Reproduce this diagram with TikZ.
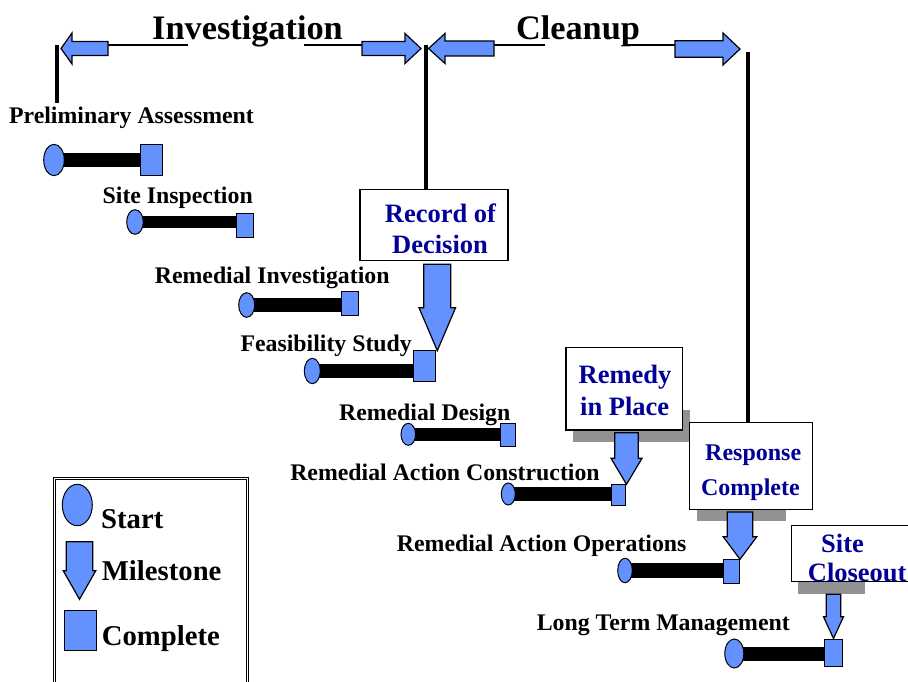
\documentclass[tikz,border=0pt]{standalone}
\usepackage{fontspec}
\setmainfont{Liberation Serif}
\usetikzlibrary{shapes.geometric,backgrounds}
\definecolor{fillblue}{RGB}{99,146,255}
\definecolor{navy}{RGB}{0,0,153}
\definecolor{shadowgray}{RGB}{146,146,146}
\newcommand\fs[1]{\fontsize{#1}{#1}\selectfont\bfseries}
% horizontal block arrow: tipx, cy, basex, endx, bodyhalf, headhalf
\newcommand\harrow[6]{\draw[msarrow] (#1,#2) -- (#3,#2-#6) -- (#3,#2-#5) -- (#4,#2-#5) -- (#4,#2+#5) -- (#3,#2+#5) -- (#3,#2+#6) -- cycle;}
% vertical block arrow: cx, top, base, tipy, bodyhalf, headhalf
\newcommand\varrow[6]{\draw[msarrow] (#1-#5,#2) -- (#1+#5,#2) -- (#1+#5,#3) -- (#1+#6,#3) -- (#1,#4) -- (#1-#6,#3) -- (#1-#5,#3) -- cycle;}
\begin{document}
\begin{tikzpicture}[x=1pt,y=-1pt,
  startnode/.style={ellipse,draw,fill=fillblue,line width=1pt,inner sep=0pt},
  donenode/.style={rectangle,draw,fill=fillblue,line width=1pt,inner sep=0pt},
  taskbar/.style={line width=#1},
  tasklabel/.style={anchor=base,inner sep=0pt,font={\fs{23.8}}},
  msbox/.style={rectangle,draw,fill=white,line width=1.3pt,inner sep=0pt},
  boxtext/.style={anchor=base,inner sep=0pt,text=navy},
  graysh/.style={fill=shadowgray},
  msarrow/.style={draw,fill=fillblue,line width=1.2pt,line join=miter},
  vbar/.style={line width=4pt},
  thinline/.style={line width=1.2pt},
  head/.style={anchor=base,inner sep=0pt,font={\fs{34.3}}},
  legtext/.style={anchor=base west,inner sep=0pt,font={\fs{28.7}}}
]
\useasboundingbox (0,0) rectangle (908,682);

% ---------- header ----------
\node[head] (inv) at (247.5,39.3) {Investigation};
\node[head] (cln) at (578,39.3) {Cleanup};
\draw[thinline] (108,45) -- (188,45);
\draw[thinline] (304,45) -- (362,45);
\draw[thinline] (494,45) -- (545,45);
\draw[thinline] (623,45) -- (675,45);
\harrow{61}{48.5}{72}{108}{7}{15.5}
\harrow{421}{48.5}{405}{362}{7}{15}
\harrow{428.5}{48.5}{445}{494}{7.5}{15}
\harrow{740}{49}{723}{675}{8.3}{16}

% ---------- milestone boxes ----------
\node[msbox,minimum width=148pt,minimum height=71.4pt] (rod) at (434,225) {};
\node[boxtext,font={\fs{26.5}}] (rod-a) at (440.5,222.7) {Record of};
\node[boxtext,font={\fs{26.5}}] (rod-b) at (440,253) {Decision};

\fill[graysh] (573,410) rectangle (690,442);
\node[msbox,minimum width=116.7pt,minimum height=82.3pt] (rip) at (624.35,388.85) {};
\node[boxtext,font={\fs{26.5}}] (rip-a) at (625,383.3) {Remedy};
\node[boxtext,font={\fs{26.5}}] (rip-b) at (624.7,415) {in Place};

\fill[graysh] (697,490) rectangle (786,520.5);
\node[msbox,minimum width=123pt,minimum height=86.6pt] (rc) at (750.8,466) {};
\node[boxtext,font={\fs{24}}] (rc-a) at (753.2,460.7) {Response};
\node[boxtext,font={\fs{24}}] (rc-b) at (750.4,495) {Complete};

\fill[graysh] (798,560) rectangle (865,594);
\node[msbox,minimum width=138.3pt,minimum height=56pt] (sc) at (860.85,553.7) {};
\node[boxtext,font={\fs{26.5}}] (sc-a) at (842.5,552.7) {Site};
\node[boxtext,font={\fs{26.5}}] (sc-b) at (857.2,581) {Closeout};

% ---------- vertical phase bars ----------
\coordinate (vb1) at (56.7,45);
\coordinate (vb1e) at (56.7,103);
\draw[vbar] (vb1) -- (vb1e);
\coordinate (vb2) at (426,45);
\draw[vbar] (vb2) -- (vb2 |- rod.north);
\coordinate (vb3) at (747.5,52);
\draw[vbar] (vb3) -- (vb3 |- rc.north);

% ---------- tasks ----------
% Preliminary Assessment
\node[tasklabel] (pa-l) at (131.5,124) {Preliminary Assessment};
\node[startnode,minimum width=20.6pt,minimum height=31.4pt] (pa-s) at (54,160) {};
\node[donenode,minimum width=22.7pt,minimum height=31pt] (pa-c) at (151.35,159.8) {};
% Site Inspection
\node[tasklabel] (si-l) at (177.7,203.3) {Site Inspection};
\node[startnode,minimum width=16.6pt,minimum height=24.6pt] (si-s) at (135,222) {};
\node[donenode,minimum width=16.6pt,minimum height=24pt] (si-c) at (245,225.3) {};
% Remedial Investigation
\node[tasklabel] (ri-l) at (272.2,283.3) {Remedial Investigation};
\node[startnode,minimum width=16pt,minimum height=24.6pt] (ri-s) at (246.7,305) {};
\node[donenode,minimum width=16.6pt,minimum height=23.3pt] (ri-c) at (350,303.35) {};
% Feasibility Study
\node[tasklabel] (fs-l) at (326.2,351.7) {Feasibility Study};
\node[startnode,minimum width=16pt,minimum height=25.4pt] (fs-s) at (312.3,371) {};
\node[donenode,minimum width=21.7pt,minimum height=30.3pt] (fs-c) at (424.15,365.85) {};
% Remedial Design
\node[tasklabel] (rd-l) at (424.7,420) {Remedial Design};
\node[startnode,minimum width=14.6pt,minimum height=22pt] (rd-s) at (408.3,434.3) {};
\node[donenode,minimum width=15pt,minimum height=22.7pt] (rd-c) at (508.2,434.65) {};
% Remedial Action Construction
\node[tasklabel] (rac-l) at (445,480) {Remedial Action Construction};
\node[startnode,minimum width=14pt,minimum height=22pt] (rac-s) at (508.3,494) {};
\node[donenode,minimum width=14pt,minimum height=21.2pt] (rac-c) at (618,494.9) {};
% Remedial Action Operations
\node[tasklabel] (rao-l) at (541.7,551) {Remedial Action Operations};
\node[startnode,minimum width=14.6pt,minimum height=24.6pt] (rao-s) at (625,570.5) {};
\node[donenode,minimum width=15.7pt,minimum height=23.7pt] (rao-c) at (731.15,571.15) {};
% Long Term Management
\node[tasklabel] (ltm-l) at (663.3,630.7) {Long Term Management};
\node[startnode,minimum width=19pt,minimum height=29pt] (ltm-s) at (734.3,653.5) {};
\node[donenode,minimum width=18.7pt,minimum height=27.5pt] (ltm-c) at (833.35,652.75) {};

\begin{scope}[on background layer]
\fill[white] (0,0) rectangle (908,682);
\draw[taskbar=13.4pt] (pa-s.center) -- (pa-s.center -| pa-c.center);
\draw[taskbar=12.7pt] (si-s.center) -- (si-s.center -| si-c.center);
\draw[taskbar=13.5pt] (ri-s.center) -- (ri-s.center -| ri-c.center);
\draw[taskbar=14pt] (fs-s.center) -- (fs-s.center -| fs-c.center);
\draw[taskbar=13.3pt] (rd-s.center) -- (rd-s.center -| rd-c.center);
\draw[taskbar=13.3pt] (rac-s.center) -- (rac-s.center -| rac-c.center);
\draw[taskbar=14.5pt] (rao-s.center) -- (rao-s.center -| rao-c.center);
\draw[taskbar=14pt] (ltm-s.center) -- (ltm-s.center -| ltm-c.center);
\end{scope}

% ---------- milestone arrows ----------
\varrow{437.3}{264.3}{307.7}{350.7}{13.5}{18.3}
\varrow{626.5}{432.7}{458.3}{484.3}{11.7}{15.5}
\varrow{740}{512}{536.7}{559.3}{12.7}{16.8}
\varrow{833.5}{594.3}{616.7}{638.5}{7.2}{10}

% ---------- legend ----------
\draw[line width=0.9pt,double,double distance=1.2pt] (54.7,700) -- (54.7,478.7) -- (247.7,478.7) -- (247.7,700);
\node[startnode,minimum width=30pt,minimum height=41.4pt] (lg-s) at (77.3,505) {};
\node[legtext] (lg-st) at (101,528.3) {Start};
\varrow{79.5}{541.7}{570.7}{599.3}{13.3}{16.3}
\node[legtext] (lg-mt) at (101.7,580) {Milestone};
\node[donenode,minimum width=31.7pt,minimum height=39.3pt] (lg-c) at (80.15,630.35) {};
\node[legtext] (lg-ct) at (101.7,645.7) {Complete};
\end{tikzpicture}
\end{document}
